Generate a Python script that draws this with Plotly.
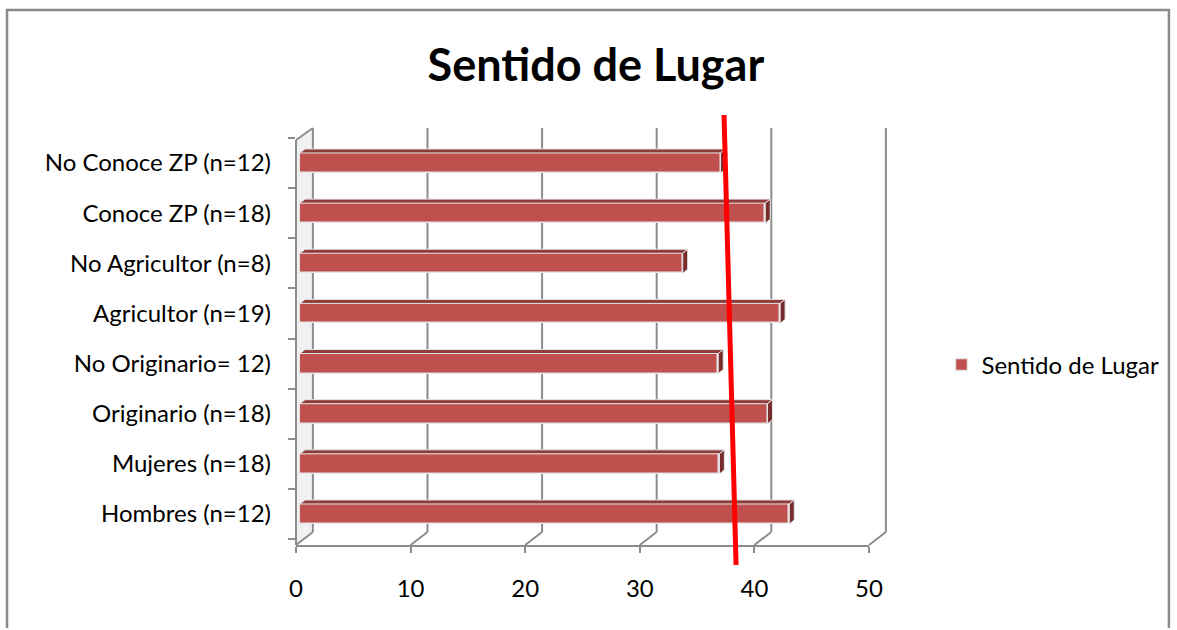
import plotly.graph_objects as go

# ---------------- data ----------------
categories = ["Hombres (n=12)", "Mujeres (n=18)", "Originario (n=18)", "No Originario= 12)",
              "Agricultor (n=19)", "No Agricultor (n=8)", "Conoce ZP (n=18)", "No Conoce ZP (n=12)"]
values = [42.7, 36.6, 40.8, 36.5, 41.9, 33.4, 40.6, 36.7]
series_name = "Sentido de Lugar"
x_ticks = [0, 10, 20, 30, 40, 50]
red_line_x = [37.35, 38.4]   # hand-drawn reference line (top, bottom)

# ---------------- geometry helpers (pixel -> paper) ----------------
W, H = 1177, 630
L, R, T, B = 296, 873, 128, 545
def px(x):
    return (x - L) / (R - L)
def py(y):
    return (B - y) / (B - T)

ppu_x = (R - L) / 50.0          # pixels per x unit
ppu_y = 50.14                   # pixels per category
y_lo = -(B - 514) / ppu_y
y_hi = 7 + (163 - T) / ppu_y

depth_dx, depth_dy = 17, 13     # 3-D depth of the chart box (pixels)
bar_base = 4 / ppu_x
bar_half = 0.2
bdx, bdy = 5 / ppu_x, 4 / ppu_y  # bar 3-D offsets

front_col = "#C0504D"
top_col = "#8E3B39"
side_col = "#772C2B"
edge_col = "#E6E6E6"
grid_col = "#8C8C8C"

ypos = list(range(len(categories)))

fig = go.Figure()

# front faces
fig.add_trace(go.Bar(
    y=ypos, x=values, base=bar_base, orientation="h", width=2 * bar_half,
    marker=dict(color=front_col, line=dict(color=edge_col, width=1.5)),
    name=series_name, showlegend=True,
))

# top and side faces (polygons computed from values)
tx, ty, sx, sy = [], [], [], []
for i, v in zip(ypos, values):
    e = bar_base + v
    tx += [bar_base, e, e + bdx, bar_base + bdx, bar_base, None]
    ty += [i + bar_half, i + bar_half, i + bar_half + bdy, i + bar_half + bdy, i + bar_half, None]
    sx += [e, e + bdx, e + bdx, e, e, None]
    sy += [i - bar_half, i - bar_half + bdy, i + bar_half + bdy, i + bar_half, i - bar_half, None]
fig.add_trace(go.Scatter(x=tx, y=ty, fill="toself", fillcolor=top_col, mode="lines",
                         line=dict(color=edge_col, width=1), showlegend=False, hoverinfo="skip"))
fig.add_trace(go.Scatter(x=sx, y=sy, fill="toself", fillcolor=side_col, mode="lines",
                         line=dict(color=edge_col, width=1), showlegend=False, hoverinfo="skip"))

shapes = []
def seg(x0, y0, x1, y1, color=grid_col, width=2, layer="below"):
    shapes.append(dict(type="line", xref="paper", yref="paper",
                       x0=px(x0), y0=py(y0), x1=px(x1), y1=py(y1),
                       line=dict(color=color, width=width), layer=layer))

# left wall light fill
shapes.append(dict(type="path", xref="paper", yref="paper", layer="below",
                   path="M {a},{b} L {c},{d} L {e},{f} L {g},{h} Z".format(
                       a=px(L), b=py(140), c=px(L + depth_dx), d=py(T),
                       e=px(L + depth_dx), f=py(B - depth_dy), g=px(L), h=py(B)),
                   fillcolor="#F1F1F1", line=dict(width=0)))

# back gridlines and floor diagonals
for v in x_ticks:
    xf = L + v * ppu_x
    xb = xf + depth_dx
    seg(xb, B - depth_dy, xb, T)
    seg(xf, B, xb, B - depth_dy)
# left wall
seg(L, 140, L, B)
seg(L, 140, L + depth_dx, T)

# red reference line
shapes.append(dict(type="line", xref="x", yref="paper",
                   x0=red_line_x[0], y0=py(115), x1=red_line_x[1], y1=py(565),
                   line=dict(color="#FF0000", width=5), layer="above"))

# outer chart frame (left, top, right edges; bottom edge is off-page)
shapes.append(dict(type="path", xref="paper", yref="paper", layer="below",
                   path="M {a},{b} L {a},{c} L {d},{c} L {d},{b}".format(
                       a=px(5), b=py(628), c=py(10), d=px(1175)),
                   line=dict(color="#8A8A8A", width=2.5)))

font_family = "Lato, 'Open Sans', sans-serif"

fig.update_layout(
    width=W, height=H, autosize=False,
    margin=dict(l=L, r=W - R, t=T, b=H - B, pad=0),
    paper_bgcolor="white", plot_bgcolor="rgba(0,0,0,0)",
    font=dict(family=font_family, size=24, color="#000000"),
    title=dict(text="<b>Sentido de Lugar</b>", x=px(598), xref="paper", xanchor="center",
               y=1 - 65 / H, yanchor="middle", font=dict(size=45, color="#000000")),
    showlegend=True,
    legend=dict(x=px(946), y=py(365), xanchor="left", yanchor="middle",
                font=dict(size=24), bgcolor="rgba(0,0,0,0)", itemwidth=30),
    xaxis=dict(range=[0, 50], tickvals=x_ticks, showgrid=False, zeroline=False,
               showline=True, linecolor=grid_col, linewidth=2,
               ticks="outside", ticklen=6, tickwidth=2, tickcolor=grid_col,
               ticklabelstandoff=15, fixedrange=True),
    yaxis=dict(range=[y_lo, y_hi], tickvals=ypos, ticktext=categories,
               showgrid=False, zeroline=False, showline=False, ticks="",
               minor=dict(tick0=-0.5, dtick=1, ticks="outside", ticklen=7,
                          tickwidth=2, tickcolor=grid_col, showgrid=False),
               ticklabelstandoff=24, fixedrange=True),
    shapes=shapes,
    bargap=0,
)

fig.write_html("out.html")
